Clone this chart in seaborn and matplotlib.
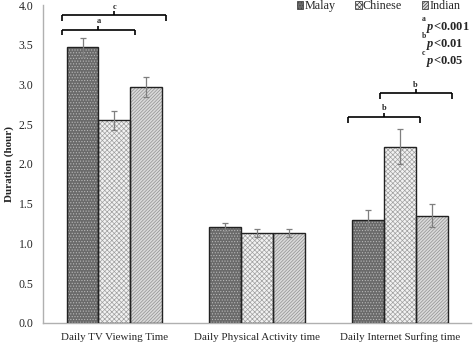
import pandas as pd
import matplotlib.pyplot as plt
import seaborn as sns
from matplotlib.patches import Rectangle, Patch

# 数据
categories = ["Daily TV Viewing Time", "Daily Physical Activity time", "Daily Internet Surfing time"]
groups = ["Malay", "Chinese", "Indian"]
malay = [3.47, 1.21, 1.30]
chinese = [2.55, 1.13, 2.22]
indian = [2.97, 1.13, 1.35]
malay_err = [0.12, 0.05, 0.12]
chinese_err = [0.12, 0.05, 0.22]
indian_err = [0.13, 0.05, 0.14]

# 显著性括号: (类别, 起始组, 结束组, 高度, 字母)
brackets = [
    (0, 0, 1, 3.69, "a"),
    (0, 0, 2, 3.87, "c"),
    (2, 0, 1, 2.59, "b"),
    (2, 1, 2, 2.89, "b"),
]
p_notes = [("a", "<0.001"), ("b", "<0.01"), ("c", "<0.05")]

styles = {
    "Malay": dict(face="#6a6a6a", hatch="......", hcolor="#b8b8b8"),
    "Chinese": dict(face="#f2f2f2", hatch="xxxxxxx", hcolor="#a0a0a0"),
    "Indian": dict(face="#dadada", hatch="//////////", hcolor="#909090"),
}


def main():
    df = pd.DataFrame({
        "category": categories * 3,
        "group": [g for g in groups for _ in categories],
        "value": malay + chinese + indian,
        "err": malay_err + chinese_err + indian_err,
    })

    sns.set_theme(style="white")
    plt.rcParams["font.family"] = ["Liberation Serif", "DejaVu Serif"]
    plt.rcParams["mathtext.fontset"] = "custom"
    plt.rcParams["mathtext.it"] = "Liberation Serif:italic:bold"
    plt.rcParams["mathtext.rm"] = "Liberation Serif:bold"
    plt.rcParams["hatch.linewidth"] = 0.5

    fig = plt.figure(figsize=(4.73, 3.42), dpi=100)
    ax = fig.add_axes([0.091, 0.056, 0.905, 0.929])

    sns.barplot(data=df, x="category", y="value", hue="group", hue_order=groups,
                order=categories, width=0.67, errorbar=None, legend=False, ax=ax)

    # 纹理 + 外框 + 误差线
    bar_pos = {}
    for gi, (g, container) in enumerate(zip(groups, ax.containers)):
        st = styles[g]
        errs = df[df["group"] == g].set_index("category").loc[categories, "err"].values
        xs = []
        for ci, p in enumerate(container.patches):
            p.set_facecolor(st["face"])
            p.set_hatch(st["hatch"])
            p.set_edgecolor(st["hcolor"])
            p.set_linewidth(0)
            ax.add_patch(Rectangle(p.get_xy(), p.get_width(), p.get_height(),
                                   fill=False, ec="#222222", lw=1.0, zorder=3))
            xs.append(p.get_x() + p.get_width() / 2)
            bar_pos[(ci, gi)] = (p.get_x(), p.get_x() + p.get_width(), p.get_height())
        vals = [p.get_height() for p in container.patches]
        ax.errorbar(xs, vals, yerr=errs, fmt="none", ecolor="#7f7f7f",
                    elinewidth=0.9, capsize=2.5, capthick=0.9, zorder=4)

    # 显著性括号
    pad = 0.03
    for ci, g0, g1, h, lab in brackets:
        x0 = bar_pos[(ci, g0)][0] - pad
        x1 = bar_pos[(ci, g1)][1] + pad
        xm = (x0 + x1) / 2
        kw = dict(color="black", lw=1.2, clip_on=False, solid_capstyle="butt")
        ax.plot([x0, x1], [h, h], **kw)
        ax.plot([x0, x0], [h, h - 0.07], **kw)
        ax.plot([x1, x1], [h, h - 0.07], **kw)
        ax.plot([xm, xm], [h, h + 0.05], **kw)
        ax.text(xm, h + 0.06, lab, ha="center", va="bottom", fontsize=6,
                fontweight="bold", clip_on=False)

    # p 值说明
    for i, (lab, txt) in enumerate(p_notes):
        y = 0.93 - i * 0.053
        ax.text(0.884, y + 0.014, lab, transform=ax.transAxes, fontsize=5.5,
                fontweight="bold", ha="left", va="bottom")
        ax.text(0.894, y, r"$p$" + txt, transform=ax.transAxes, fontsize=9,
                fontweight="bold", ha="left", va="center")

    # 图例
    handles = [Patch(facecolor=styles[g]["face"], hatch=styles[g]["hatch"],
                     edgecolor="#444444", lw=0.6) for g in groups]
    ax.legend(handles, groups, loc="upper right", bbox_to_anchor=(0.975, 1.015),
              ncol=3, frameon=False, fontsize=8.7, handlelength=0.55,
              handleheight=0.55, handletextpad=0.1, columnspacing=1.6,
              borderpad=0.0, borderaxespad=0.0)

    # 坐标轴
    ax.set_ylim(0, 4.0)
    ax.set_xlim(-0.5, 2.5)
    ax.set_yticks([0, 0.5, 1.0, 1.5, 2.0, 2.5, 3.0, 3.5, 4.0])
    ax.set_yticklabels([f"{v:.1f}" for v in ax.get_yticks()], fontsize=8.5)
    ax.set_xticks([-0.5, 0.5, 1.5, 2.5], minor=True)
    ax.tick_params(axis="x", which="major", length=0, labelsize=7.9, pad=7)
    ax.tick_params(axis="x", which="minor", length=3, color="#a0a0a0", width=0.8)
    ax.tick_params(axis="y", length=3, color="#a0a0a0", width=0.8, pad=4)
    ax.set_xlabel("")
    ax.set_ylabel("Duration (hour)", fontsize=8, fontweight="bold", labelpad=3)
    for s in ["top", "right"]:
        ax.spines[s].set_visible(False)
    for s in ["left", "bottom"]:
        ax.spines[s].set_color("#b0b0b0")
        ax.spines[s].set_linewidth(1.0)

    fig.savefig("out.png", dpi=100)
    plt.close(fig)


if __name__ == "__main__":
    main()
